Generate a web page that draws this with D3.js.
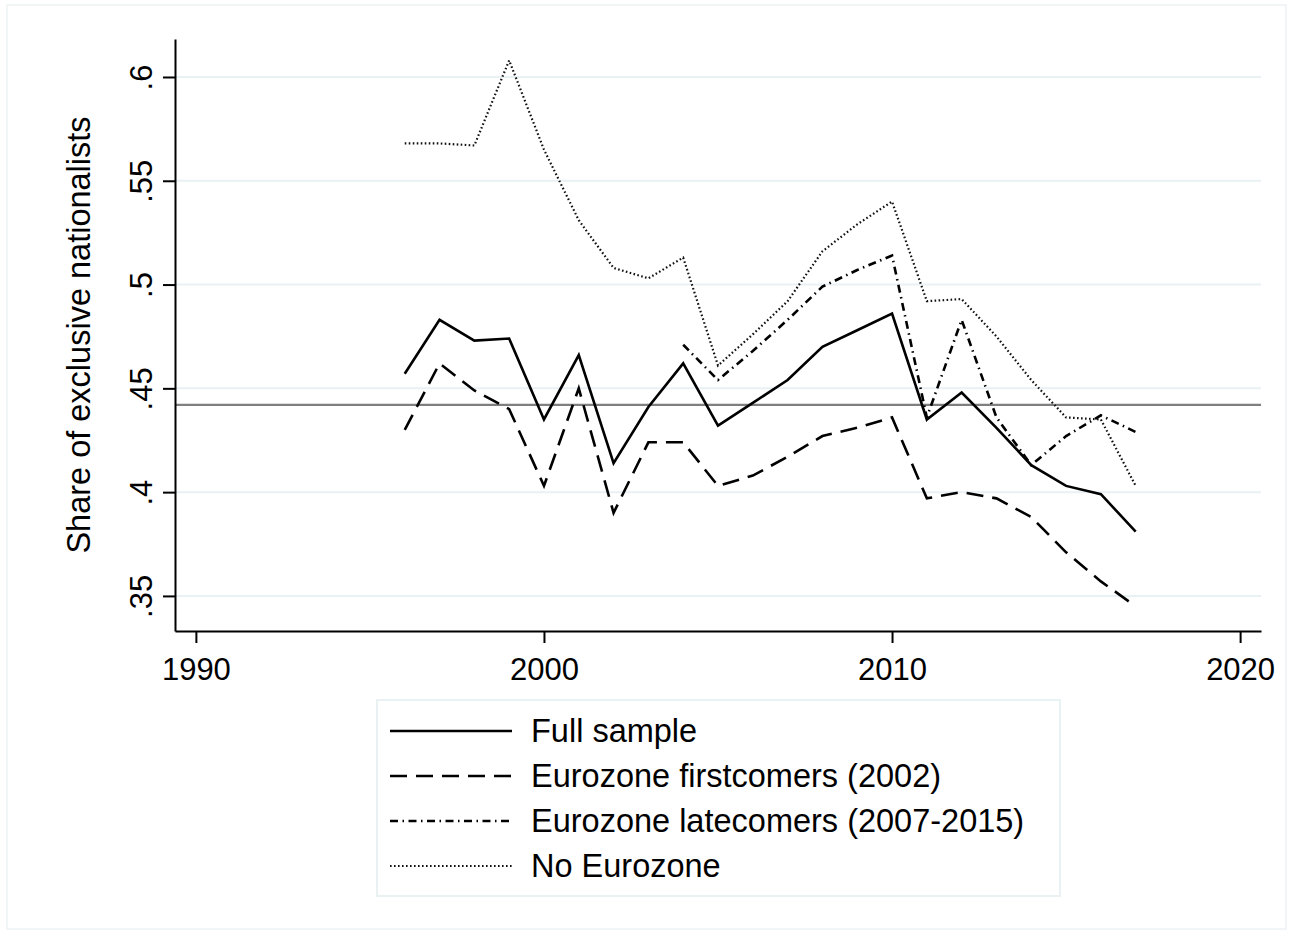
<!DOCTYPE html>
<html>
<head>
<meta charset="utf-8">
<script src="https://cdn.jsdelivr.net/npm/d3@7"></script>
<style>
  body { margin: 0; background: #fff; }
  text { font-family: "Liberation Sans", Arial, sans-serif; fill: #000; }
</style>
</head>
<body>
<div class="container"></div>
<script>
// data
var years = [1996,1997,1998,1999,2000,2001,2002,2003,2004,2005,2006,2007,2008,2009,2010,2011,2012,2013,2014,2015,2016,2017];
var fullSample = [.457,.483,.473,.474,.435,.466,.414,.441,.462,.432,.443,.454,.470,.478,.486,.435,.448,.431,.413,.403,.399,.381];
var firstcomers = [.430,.462,.449,.440,.403,.450,.390,.424,.424,.403,.408,.417,.427,.431,.436,.397,.400,.397,.388,.371,.357,.345];
var lateYears = [2004,2005,2006,2007,2008,2009,2010,2011,2012,2013,2014,2015,2016,2017];
var latecomers = [.471,.454,.468,.483,.499,.507,.514,.436,.483,.436,.413,.427,.437,.429];
var noEurozone = [.568,.568,.567,.608,.565,.531,.508,.503,.513,.461,.476,.492,.516,.529,.540,.492,.493,.475,.454,.436,.435,.403];
var refValue = .442;

var xTicks = [1990,2000,2010,2020];
var yTicks = [.35,.4,.45,.5,.55,.6];
var yTickLabels = [".35",".4",".45",".5",".55",".6"];
var legendLabels = ["Full sample","Eurozone firstcomers (2002)","Eurozone latecomers (2007-2015)","No Eurozone"];

var width = 1292;
var height = 935;

var svg = d3.select(".container")
  .append("svg")
  .attr("width", width)
  .attr("height", height);

// outer frame of the graph region
svg.append("rect")
  .attr("x", 7).attr("y", 5)
  .attr("width", 1279).attr("height", 924)
  .attr("fill", "none")
  .attr("stroke", "#edf2f4")
  .attr("stroke-width", 1.5);

var x = d3.scaleLinear().domain([1989.4, 2020.6]).range([175, 1261]);
var y = d3.scaleLinear().domain([0.3331, 0.6183]).range([631, 39]);

// gridlines
svg.append("g")
  .selectAll("line")
  .data(yTicks)
  .enter().append("line")
  .attr("x1", 176).attr("x2", 1261)
  .attr("y1", function (d) { return y(d); })
  .attr("y2", function (d) { return y(d); })
  .attr("stroke", "#e9f1f3")
  .attr("stroke-width", 2);

// reference line
svg.append("line")
  .attr("x1", 176).attr("x2", 1261)
  .attr("y1", y(refValue)).attr("y2", y(refValue))
  .attr("stroke", "#7f7f7f")
  .attr("stroke-width", 2.2);

// series
var series = [
  { xs: years, ys: fullSample, dash: null, width: 2.6, color: "#000" },
  { xs: years, ys: firstcomers, dash: "17,9", width: 2.6, color: "#000" },
  { xs: lateYears, ys: latecomers, dash: "8,4.5,1.5,4.5", width: 2.6, color: "#000" },
  { xs: years, ys: noEurozone, dash: "1.6,2.4", width: 2.2, color: "#111" }
];

var line = d3.line()
  .x(function (d) { return x(d[0]); })
  .y(function (d) { return y(d[1]); });

series.forEach(function (s) {
  svg.append("path")
    .datum(s.xs.map(function (yr, i) { return [yr, s.ys[i]]; }))
    .attr("d", line)
    .attr("fill", "none")
    .attr("stroke", s.color)
    .attr("stroke-width", s.width)
    .attr("stroke-dasharray", s.dash);
});

// y axis
var yAxis = svg.append("g")
  .attr("transform", "translate(175,0)")
  .call(d3.axisLeft(y).tickValues(yTicks).tickSize(12).tickSizeOuter(0)
    .tickFormat(function (d, i) { return yTickLabels[i]; }));
yAxis.select(".domain").attr("stroke", "#000").attr("stroke-width", 2);
yAxis.selectAll(".tick line").attr("stroke", "#000").attr("stroke-width", 2);
yAxis.selectAll(".tick text")
  .attr("x", null).attr("dy", null)
  .attr("transform", "translate(-23,0) rotate(-90)")
  .attr("text-anchor", "middle")
  .style("font-size", "31px")
  .style("font-family", "Liberation Sans, Arial, sans-serif");

// x axis
var xAxis = svg.append("g")
  .attr("transform", "translate(0,631)")
  .call(d3.axisBottom(x).tickValues(xTicks).tickSize(12).tickSizeOuter(0)
    .tickFormat(d3.format("d")));
xAxis.select(".domain").attr("stroke", "#000").attr("stroke-width", 2);
xAxis.selectAll(".tick line").attr("stroke", "#000").attr("stroke-width", 2);
xAxis.selectAll(".tick text")
  .attr("y", 49).attr("dy", null)
  .style("font-size", "31px")
  .style("font-family", "Liberation Sans, Arial, sans-serif");

// y title
svg.append("text")
  .attr("transform", "translate(90,335) rotate(-90)")
  .attr("text-anchor", "middle")
  .style("font-size", "32.5px")
  .text("Share of exclusive nationalists");

// legend
var legend = svg.append("g");
legend.append("rect")
  .attr("x", 377).attr("y", 700)
  .attr("width", 683).attr("height", 196)
  .attr("fill", "#fff")
  .attr("stroke", "#e9f1f3")
  .attr("stroke-width", 2);

legendLabels.forEach(function (lab, i) {
  var base = 742 + i * 45;
  legend.append("line")
    .attr("x1", 390).attr("x2", 512)
    .attr("y1", base - 11).attr("y2", base - 11)
    .attr("stroke", series[i].color)
    .attr("stroke-width", series[i].width)
    .attr("stroke-dasharray", series[i].dash);
  legend.append("text")
    .attr("x", 531).attr("y", base)
    .style("font-size", "32.5px")
    .text(lab);
});
</script>
</body>
</html>
